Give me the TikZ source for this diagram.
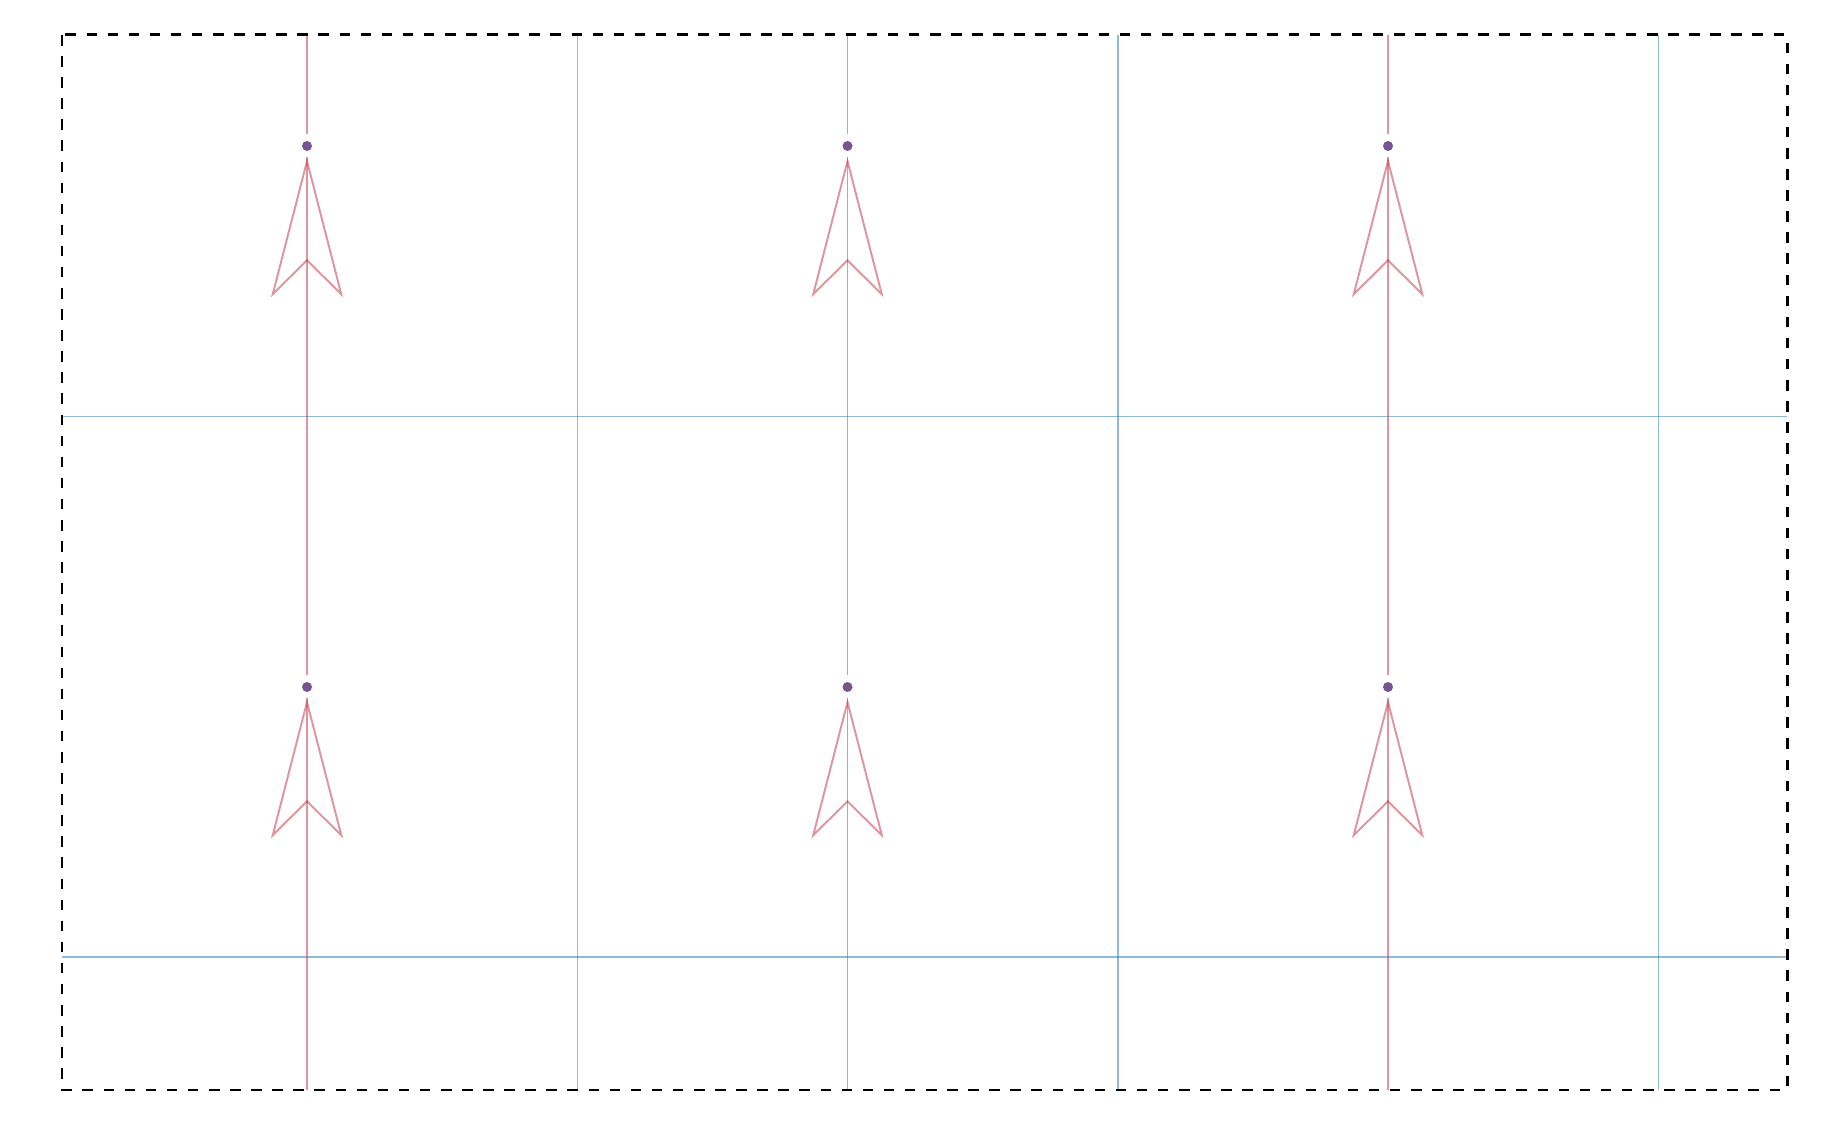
\documentclass[tikz,border=0pt]{standalone}
\usepackage{tikz}
\usetikzlibrary{arrows.meta,calc}
\definecolor{FlowRed}{RGB}{196,62,76}
\definecolor{GridBlue}{RGB}{31,119,180}
\definecolor{DotPurple}{RGB}{122,84,146}
\tikzset{
  flow/.style={FlowRed,draw opacity=0.55,line width=0.55pt},
  cellline/.style={GridBlue,draw opacity=0.5,line width=0.45pt},
  fixpt/.style={circle,fill=DotPurple,inner sep=0pt,minimum size=1mm}
}
\newcommand{\flowarrow}[3]{%
  \draw[flow,shorten >=0.55mm,#3] (#1)--(#2);
  \draw[flow,shorten >=0.55mm,-{Stealth[open,length=14mm,width=7.2mm,inset=3.55mm]}] ($(#2)!1.14cm!(#1)$)--(#2);}

\begin{document}
\begin{tikzpicture}
  \useasboundingbox (0,0) rectangle (18.25,-11.27);
  % cell grid
  \foreach \x in {5.775,11.18,16.585}
    \draw[cellline] (\x,-0.35)--(\x,-10.90);
  \foreach \y in {-4.165,-9.57}
    \draw[cellline] (0.62,\y)--(17.87,\y);
  % points and flow
  \foreach \x [count=\i] in {3.07,8.475,13.88} {
    \node[fixpt] (up\i) at (\x,-1.46) {};
    \node[fixpt] (lo\i) at (\x,-6.87) {};
    \coordinate (top\i) at (\x,-0.35);
    \coordinate (bot\i) at (\x,-10.90);
    \draw[flow,shorten <=0.6mm] (up\i)--(top\i);
    \flowarrow{lo\i}{up\i}{shorten <=0.6mm}
    \flowarrow{bot\i}{lo\i}{}
  }
  \draw[dashed,line width=0.85pt] (0.62,-0.35) rectangle (17.87,-10.90);
\end{tikzpicture}
\end{document}
